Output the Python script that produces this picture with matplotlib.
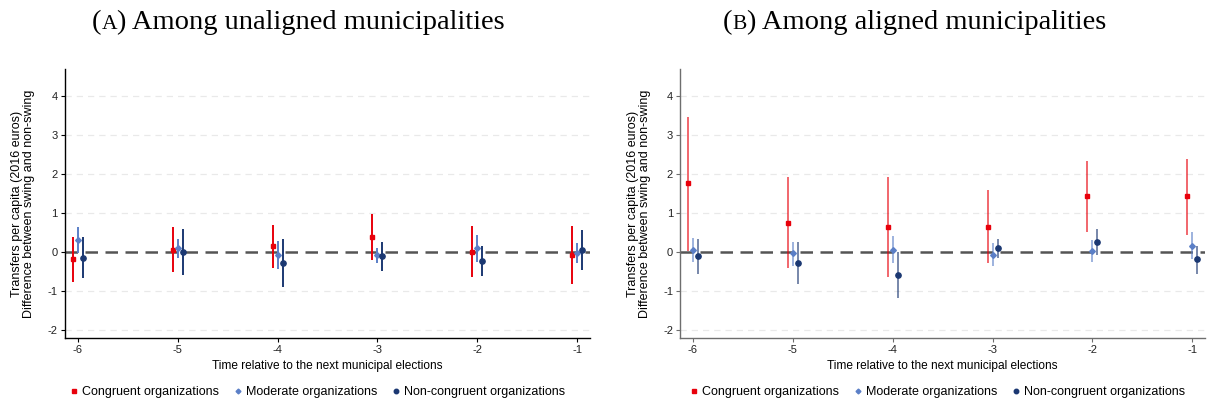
import numpy as np
import matplotlib
matplotlib.use("Agg")
import matplotlib.pyplot as plt
from matplotlib.lines import Line2D

# periods relative to the next municipal elections
periods = [-6, -5, -4, -3, -2, -1]
tick_labels = ["-6", "-5", "-4", "-3", "-2", "-1"]

# (A) unaligned municipalities: point estimate, upper and lower CI
una_cong = [-0.18, 0.06, 0.14, 0.39, 0.00, -0.08]
una_cong_hi = [0.39, 0.65, 0.68, 0.96, 0.66, 0.66]
una_cong_lo = [-0.76, -0.51, -0.41, -0.20, -0.65, -0.82]
una_mod = [0.30, 0.09, -0.09, -0.09, 0.09, -0.03]
una_mod_hi = [0.63, 0.33, 0.27, 0.11, 0.44, 0.24]
una_mod_lo = [-0.03, -0.15, -0.45, -0.28, -0.25, -0.29]
una_ncong = [-0.15, 0.00, -0.28, -0.11, -0.24, 0.05]
una_ncong_hi = [0.37, 0.59, 0.32, 0.25, 0.15, 0.57]
una_ncong_lo = [-0.67, -0.58, -0.89, -0.48, -0.63, -0.47]

# (B) aligned municipalities
ali_cong = [1.76, 0.75, 0.65, 0.65, 1.42, 1.42]
ali_cong_hi = [3.47, 1.93, 1.93, 1.58, 2.33, 2.38]
ali_cong_lo = [0.03, -0.42, -0.65, -0.29, 0.51, 0.44]
ali_mod = [0.06, -0.03, 0.06, -0.07, 0.03, 0.15]
ali_mod_hi = [0.35, 0.26, 0.41, 0.23, 0.31, 0.50]
ali_mod_lo = [-0.25, -0.36, -0.28, -0.37, -0.27, -0.18]
ali_ncong = [-0.11, -0.28, -0.59, 0.09, 0.25, -0.19]
ali_ncong_hi = [0.33, 0.26, 0.00, 0.33, 0.58, 0.16]
ali_ncong_lo = [-0.56, -0.83, -1.18, -0.15, -0.09, -0.56]

series_names = ["Congruent organizations", "Moderate organizations", "Non-congruent organizations"]
colors = ["#e8000b", "#5b7fc7", "#1b3872"]
markers = ["s", "D", "o"]
msizes = [3.3, 2.9, 3.8]
offsets = [-0.05, 0.0, 0.05]

plt.rcParams['font.family'] = ['Liberation Sans', 'DejaVu Sans']
plt.rcParams['axes.unicode_minus'] = False

fig = plt.figure(figsize=(12.08, 4.03), dpi=100)
ax1 = fig.add_axes([0.0536, 0.162, 0.4348, 0.666])
ax2 = fig.add_axes([0.5629, 0.162, 0.4346, 0.666])

panels = [
    (ax1, [(una_cong, una_cong_hi, una_cong_lo),
           (una_mod, una_mod_hi, una_mod_lo),
           (una_ncong, una_ncong_hi, una_ncong_lo)], 1.0, "black"),
    (ax2, [(ali_cong, ali_cong_hi, ali_cong_lo),
           (ali_mod, ali_mod_hi, ali_mod_lo),
           (ali_ncong, ali_ncong_hi, ali_ncong_lo)], 0.6, "#6e6e6e"),
]

for ax, data, ci_alpha, spine_col in panels:
    for y in [-2, -1, 1, 2, 3, 4]:
        ax.axhline(y, color="#e9e9e9", lw=0.9, dashes=(5, 4), zorder=0)
    ax.axhline(0, color="#555555", lw=1.8, dashes=(5, 3), zorder=1)
    x = np.array(periods, dtype=float)
    for i, (est, hi, lo) in enumerate(data):
        xs = x + offsets[i]
        ax.vlines(xs, lo, hi, color=colors[i], lw=1.4, alpha=ci_alpha, zorder=2)
        ax.plot(xs, est, linestyle="none", marker=markers[i], ms=msizes[i],
                color=colors[i], zorder=3)
    ax.set_xlim(-6.13, -0.873)
    ax.set_ylim(-2.2, 4.68)
    ax.set_xticks(periods)
    ax.set_xticklabels(tick_labels)
    ax.set_yticks([-2, -1, 0, 1, 2, 3, 4])
    ax.tick_params(labelsize=8, length=3, width=0.8, pad=2, colors=spine_col,
                   labelcolor="#222222")
    for s in ["top", "right"]:
        ax.spines[s].set_visible(False)
    for s in ["left", "bottom"]:
        ax.spines[s].set_color(spine_col)
        ax.spines[s].set_linewidth(1.0)
    ax.set_ylabel("Transfers per capita (2016 euros)\nDifference between swing and non-swing",
                  fontsize=9, labelpad=9, linespacing=1.0)
    ax.set_xlabel("Time relative to the next municipal elections", fontsize=8.6, labelpad=4)

handles = [Line2D([], [], linestyle="none", marker=markers[i], ms=msizes[i] * 0.85,
                  color=colors[i]) for i in range(3)]
for cx in [0.262, 0.775]:
    fig.legend(handles, series_names, loc="center", bbox_to_anchor=(cx, 0.027),
               ncol=3, frameon=False, fontsize=9, handletextpad=0.15,
               columnspacing=1.0, handlelength=1.0)

# titles with small-caps panel letter
fig.canvas.draw()
renderer = fig.canvas.get_renderer()


def small_caps_title(cx, letter, rest):
    base = 0.928
    parts = [("(", 20.5), (letter, 15.5), (") " + rest, 20.5)]
    texts = []
    for s, fs in parts:
        t = fig.text(0, base, s, fontsize=fs, family="Liberation Serif",
                     ha="left", va="baseline")
        texts.append(t)
    widths = [t.get_window_extent(renderer).width for t in texts]
    total = sum(widths)
    x0 = cx * fig.bbox.width - total / 2
    for t, w in zip(texts, widths):
        t.set_position((x0 / fig.bbox.width, base))
        x0 += w


small_caps_title(0.247, "A", "Among unaligned municipalities")
small_caps_title(0.757, "B", "Among aligned municipalities")

fig.savefig("out.png", dpi=100)
